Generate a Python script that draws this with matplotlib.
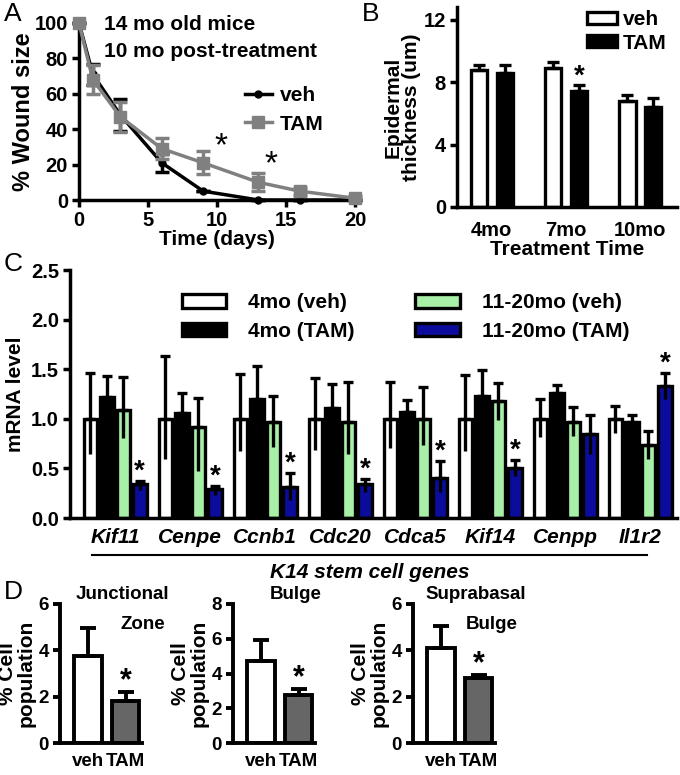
import matplotlib.pyplot as plt
import matplotlib.transforms as mtransforms
from matplotlib.patches import Patch
from matplotlib.lines import Line2D
import numpy as np

plt.rcParams['font.family'] = ['Liberation Sans', 'DejaVu Sans']
plt.rcParams['font.weight'] = 'bold'
plt.rcParams['axes.labelweight'] = 'bold'

W, H = 680, 775
TICK = 14.5
LAB = 15

# ---- Panel A: wound closure
days = [0, 1, 3, 6, 9, 13, 16, 20]
veh_wound = [100, 71, 48, 21, 5, 0, 0, 0]
veh_wound_err = [0, 6, 9, 5, 0, 0, 0, 0]
tam_wound = [100, 68, 47, 29, 21, 10, 5, 1]
tam_wound_err = [0, 8, 8.5, 6, 6.5, 5, 2, 1]

# ---- Panel B: epidermal thickness
b_times = ['4mo', '7mo', '10mo']
b_veh = [8.8, 8.9, 6.8]
b_veh_err = [0.3, 0.35, 0.35]
b_tam = [8.6, 7.4, 6.4]
b_tam_err = [0.5, 0.4, 0.55]

# ---- Panel C: mRNA levels
genes = ['Kif11', 'Cenpe', 'Ccnb1', 'Cdc20', 'Cdca5', 'Kif14', 'Cenpp', 'Il1r2']
c_labels = ['4mo (veh)', '4mo (TAM)', '11-20mo (veh)', '11-20mo (TAM)']
c_4veh = [1.0, 1.0, 1.0, 1.0, 1.0, 1.0, 1.0, 1.0]
c_4veh_lo = [0.35, 0.41, 0.32, 0.31, 0.29, 0.32, 0.18, 0.14]
c_4veh_hi = [0.46, 0.63, 0.45, 0.41, 0.37, 0.44, 0.20, 0.13]
c_4tam = [1.22, 1.06, 1.20, 1.11, 1.07, 1.23, 1.26, 0.97]
c_4tam_lo = [0.20, 0.18, 0.30, 0.22, 0.11, 0.24, 0.08, 0.07]
c_4tam_hi = [0.21, 0.20, 0.33, 0.24, 0.12, 0.26, 0.08, 0.07]
c_oveh = [1.09, 0.92, 0.97, 0.97, 1.00, 1.18, 0.97, 0.74]
c_oveh_lo = [0.28, 0.45, 0.25, 0.32, 0.26, 0.19, 0.14, 0.15]
c_oveh_hi = [0.33, 0.29, 0.26, 0.40, 0.32, 0.18, 0.15, 0.14]
c_otam = [0.34, 0.29, 0.31, 0.34, 0.40, 0.50, 0.85, 1.33]
c_otam_lo = [0.06, 0.06, 0.13, 0.08, 0.14, 0.08, 0.20, 0.13]
c_otam_hi = [0.03, 0.03, 0.14, 0.05, 0.17, 0.08, 0.19, 0.13]
c_star = [True, True, True, True, True, True, False, True]

# ---- Panel D: cell populations
d_titles = ['Junctional', 'Bulge', 'Suprabasal']
d_sub = ['Zone', '', 'Bulge']
d_groups = ['veh', 'TAM']
d_ymax = [6, 8, 6]
d_veh = [3.75, 4.7, 4.1]
d_veh_err = [1.2, 1.25, 0.95]
d_tam = [1.8, 2.75, 2.8]
d_tam_err = [0.4, 0.35, 0.12]

fig = plt.figure(figsize=(6.8, 7.75), dpi=100)


def axes_px(l, t, r, b):
    return fig.add_axes([l / W, 1 - b / H, (r - l) / W, (b - t) / H])


def style(ax, lw=2.5):
    for s in ['top', 'right']:
        ax.spines[s].set_visible(False)
    for s in ['left', 'bottom']:
        ax.spines[s].set_linewidth(lw)
    ax.tick_params(width=lw, length=5, labelsize=TICK, pad=3)


# ================= A
axA = axes_px(79, 23, 355, 200)
style(axA)
axA.errorbar(days, veh_wound, yerr=veh_wound_err, color='black', marker='o', ms=5,
             lw=2.5, elinewidth=2.5, capsize=5, capthick=2.5, clip_on=False, zorder=3)
axA.errorbar(days, tam_wound, yerr=tam_wound_err, color='#808080', marker='s', ms=8,
             lw=2.5, elinewidth=2.5, capsize=5, capthick=2.5, clip_on=False, zorder=4)
axA.set_xlim(0, 20)
axA.set_ylim(0, 100)
axA.set_xticks([0, 5, 10, 15, 20])
axA.set_yticks([0, 20, 40, 60, 80, 100])
axA.set_xlabel('Time (days)', fontsize=LAB, labelpad=0)
axA.set_ylabel('% Wound size', fontsize=17, labelpad=0)
axA.text(1.8, 99, '14 mo old mice', fontsize=LAB, va='center')
axA.text(1.8, 84, '10 mo post-treatment', fontsize=LAB, va='center')
axA.text(10.3, 30, '*', fontsize=24, fontweight='normal', ha='center', va='center')
axA.text(13.9, 20, '*', fontsize=24, fontweight='normal', ha='center', va='center')
hA = [Line2D([], [], color='black', marker='o', ms=5, lw=2.5),
      Line2D([], [], color='#808080', marker='s', ms=8, lw=2.5)]
axA.legend(hA, ['veh', 'TAM'], loc='upper left', bbox_to_anchor=(0.57, 0.69), frameon=False,
           fontsize=LAB, handlelength=1.3, handletextpad=0.4, labelspacing=0.45,
           borderaxespad=0)

# ================= B
axB = axes_px(457, 7, 677, 207)
style(axB)
xb = np.arange(len(b_times))
axB.bar(xb - 0.17, b_veh, 0.22, color='white', edgecolor='black', lw=2.4)
axB.bar(xb + 0.18, b_tam, 0.22, color='black', edgecolor='black', lw=2.4)
axB.errorbar(xb - 0.17, b_veh, yerr=[[0] * 3, b_veh_err], fmt='none', ecolor='black',
             elinewidth=2.4, capsize=4, capthick=2.4)
axB.errorbar(xb + 0.18, b_tam, yerr=[[0] * 3, b_tam_err], fmt='none', ecolor='black',
             elinewidth=2.4, capsize=4, capthick=2.4)
axB.text(1.18, 8.35, '*', fontsize=20, ha='center', va='center')
axB.set_xlim(-0.47, 2.5)
axB.set_ylim(0, 12.8)
axB.set_yticks([0, 4, 8, 12])
axB.set_xticks(xb)
axB.set_xticklabels(b_times)
axB.tick_params(axis='x', length=0, pad=10)
axB.set_xlabel('Treatment Time', fontsize=LAB, labelpad=0)
axB.set_ylabel('Epidermal\nthickness (um)', fontsize=LAB, labelpad=2, linespacing=0.95)
axB.legend([Patch(facecolor='white', edgecolor='black', lw=2.4),
            Patch(facecolor='black', edgecolor='black', lw=2.4)], ['veh', 'TAM'],
           loc='upper right', bbox_to_anchor=(1.0, 1.035), frameon=False, fontsize=LAB,
           handlelength=1.4, handleheight=0.55, handletextpad=0.3, labelspacing=0.2,
           borderaxespad=0.1)

# ================= C
axC = axes_px(70, 270, 677, 518)
style(axC)
xc = np.arange(len(genes))
c_series = [(c_4veh, c_4veh_lo, c_4veh_hi, 'white'),
            (c_4tam, c_4tam_lo, c_4tam_hi, 'black'),
            (c_oveh, c_oveh_lo, c_oveh_hi, '#a8f0a8'),
            (c_otam, c_otam_lo, c_otam_hi, '#0c0c9c')]
offsets = [-0.33, -0.11, 0.11, 0.33]
handles = []
for (vals, lo, hi, col), off in zip(c_series, offsets):
    xs = xc + off
    axC.bar(xs, vals, 0.18, color=col, edgecolor='black', lw=2.4)
    axC.errorbar(xs, vals, yerr=[[0] * len(vals), hi], fmt='none', ecolor='black',
                 elinewidth=2.4, capsize=3.5, capthick=2.4)
    axC.vlines(xs, np.array(vals) - np.array(lo), vals, color='black', lw=2.4)
    handles.append(Patch(facecolor=col, edgecolor='black', lw=2.4))
for i, s in enumerate(c_star):
    if s:
        top = c_otam[i] + c_otam_hi[i]
        axC.text(xc[i] + 0.33, top + 0.1, '*', fontsize=20, ha='center', va='center')
axC.set_xlim(-0.6, 7.49)
axC.set_ylim(0, 2.5)
axC.set_yticks([0, 0.5, 1.0, 1.5, 2.0, 2.5])
axC.set_yticklabels(['0.0', '0.5', '1.0', '1.5', '2.0', '2.5'])
axC.set_xticks(xc)
axC.set_xticklabels(genes, fontsize=LAB, style='italic')
axC.tick_params(axis='x', length=0, pad=7)
axC.set_ylabel('mRNA level', fontsize=LAB, labelpad=4)
axC.legend(handles, c_labels, ncol=2,
           loc='upper left', bbox_to_anchor=(0.17, 0.94), frameon=False, fontsize=LAB,
           handlelength=2.15, handleheight=0.62, handletextpad=1.05, columnspacing=2.9,
           labelspacing=0.45, borderaxespad=0)
trC = mtransforms.blended_transform_factory(axC.transData, axC.transAxes)
axC.plot([-0.31, 7.09], [-0.15, -0.15], color='black', lw=1.5, transform=trC, clip_on=False)
axC.text(3.39, -0.22, 'K14 stem cell genes', transform=trC, fontsize=LAB, style='italic',
         ha='center', va='center')

# ================= D
d_left = [60, 233, 413]
DF = 13.5
for k in range(3):
    ax = axes_px(d_left[k], 604, d_left[k] + 82, 743)
    style(ax, lw=2.8)
    ax.bar([0, 1], [d_veh[k], d_tam[k]], 0.73, color=['white', '#666666'],
           edgecolor='black', lw=2.8)
    ax.errorbar([0, 1], [d_veh[k], d_tam[k]], yerr=[[0, 0], [d_veh_err[k], d_tam_err[k]]],
                fmt='none', ecolor='black', elinewidth=2.8, capsize=6, capthick=2.8)
    ax.text(1, d_tam[k] + d_tam_err[k] + d_ymax[k] * 0.08, '*', fontsize=22,
            ha='center', va='center')
    ax.set_xlim(-0.75, 1.44)
    ax.set_ylim(0, d_ymax[k])
    ax.set_yticks(np.arange(0, d_ymax[k] + 1, 2))
    ax.set_xticks([0, 1])
    ax.set_xticklabels(d_groups)
    ax.tick_params(labelsize=DF)
    ax.tick_params(axis='x', length=0, pad=7)
    ax.set_ylabel('% Cell\npopulation', fontsize=15, labelpad=2, linespacing=0.95)
    ax.text(0.76, 1.07, d_titles[k], transform=ax.transAxes, fontsize=DF,
            ha='center', va='center')
    if d_sub[k]:
        ax.text(1.28, 0.85, d_sub[k], transform=ax.transAxes, fontsize=DF,
                ha='right', va='center')

# panel letters
for letter, x, y in [('A', 4, 2), ('B', 362, 2), ('C', 4, 252), ('D', 4, 580)]:
    fig.text(x / W, 1 - y / H, letter, fontsize=19, fontweight='normal', va='top', ha='left')

fig.savefig('out.png', dpi=100)
